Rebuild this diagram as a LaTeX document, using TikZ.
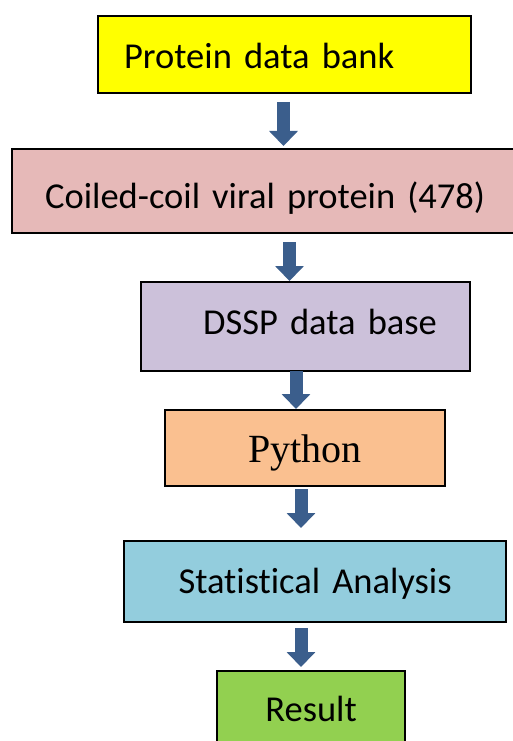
\documentclass[tikz,border=0pt]{standalone}
\usepackage{fontspec}
\setmainfont{Carlito}[Ligatures=NoCommon]
\newfontfamily\timesfont{Liberation Serif}
\usetikzlibrary{arrows.meta}
\definecolor{cyel}{RGB}{255,255,0}
\definecolor{cpink}{RGB}{230,185,184}
\definecolor{clav}{RGB}{204,193,218}
\definecolor{corange}{RGB}{250,192,144}
\definecolor{cblue}{RGB}{147,205,221}
\definecolor{cgreen}{RGB}{146,208,80}
\definecolor{carrow}{RGB}{59,94,140}
\begin{document}
\begin{tikzpicture}[x=1pt,y=-1pt,
  box/.style={draw=black, line width=2.2pt, rectangle, anchor=north west, inner sep=0pt,
    font=\fontsize{36.5}{40}\selectfont, text height=23.5pt, text depth=0pt},
  flow/.style={draw=carrow, line width=13pt, -{Triangle[width=28pt,length=15pt]}}]
\useasboundingbox (0,0) rectangle (513,741);
\clip (0,0) rectangle (513,741);

\node[box, fill=cyel, minimum width=373pt, minimum height=77pt, text width=373pt, align=left,
  text height=27pt] (n1) at (97,15) {\hspace*{26pt}Protein data bank};
\node[box, fill=cpink, minimum width=515pt, minimum height=84pt, text width=515pt, align=left,
  text height=34pt] (n2) at (11,148) {\hspace*{33pt}Coiled-coil viral protein (478)};
\node[box, fill=clav, minimum width=329pt, minimum height=89pt, text width=329pt, align=left,
  text depth=7pt] (n3) at (140,281) {\hspace*{62pt}DSSP data base};
\node[box, fill=corange, minimum width=280pt, minimum height=76pt, text width=280pt, align=center,
  font=\timesfont\fontsize{40}{44}\selectfont, text height=28.5pt] (n4) at (164,409) {Python};
\node[box, fill=cblue, minimum width=382pt, minimum height=81pt, text width=382pt, align=center]
  (n5) at (123,540) {Statistical Analysis};
\node[box, fill=cgreen, minimum width=188pt, minimum height=78pt, text width=188pt, align=center]
  (n6) at (216,670) {Result};

\coordinate (a1) at (283.5,102);
\coordinate (a2) at (289.5,242);
\coordinate (a3) at (296,371);
\coordinate (a4) at (301,489);
\coordinate (a5) at (301,628);
\draw[flow, shorten >=2pt] (a1) -- (a1 |- n2.north);
\draw[flow] (a2) -- (a2 |- n3.north);
\draw[flow] (a3) -- (a3 |- n4.north);
\draw[flow, shorten >=12pt] (a4) -- (a4 |- n5.north);
\draw[flow, shorten >=3pt] (a5) -- (a5 |- n6.north);
\end{tikzpicture}
\end{document}
